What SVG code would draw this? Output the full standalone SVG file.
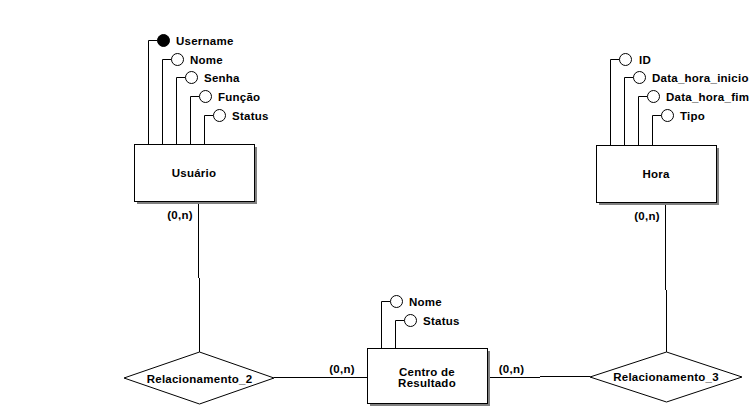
<svg xmlns="http://www.w3.org/2000/svg" width="755" height="410" viewBox="0 0 755 410">
  <style>
    text { font-family: "Liberation Sans", Arial, sans-serif; font-weight: bold; font-size: 11.5px; letter-spacing: 0.25px; fill: #000; }
    .mid { text-anchor: middle; }
    .box { fill: #fff; stroke: #000; stroke-width: 1; }
    .shadow { fill: #808080; }
    .rel { fill: #fff; stroke: #000; stroke-width: 1; }
    .line { fill: none; stroke: #000; stroke-width: 1; }
    .attr { fill: #fff; stroke: #000; stroke-width: 1; }
    .key { fill: #000; stroke: #000; stroke-width: 1; }
  </style>

  <!-- connectors between entities and relationships -->
  <g id="connectors">
    <path class="line" d="M198.5 202 V278 M199.5 278 V352"/>
    <path class="line" d="M665.5 203 V290 M666.5 290 V352"/>
    <path class="line" d="M274 377.5 H367"/>
    <path class="line" d="M487 377.5 H540 M540 376.5 H590"/>
  </g>

  <!-- cardinalities -->
  <g id="cardinalities">
    <text class="mid" x="180" y="219">(0,n)</text>
    <text class="mid" x="647" y="220">(0,n)</text>
    <text class="mid" x="342" y="373">(0,n)</text>
    <text class="mid" x="511.5" y="373">(0,n)</text>
  </g>

  <!-- entity: Usuário -->
  <g id="usuario">
    <path class="line" d="M148.5 144 V40.5 H157.5 M162.5 144 V59.5 H171.5 M176.5 144 V77.5 H185.5 M190.5 144 V96.5 H199.5 M204.5 144 V115.5 H213.5"/>
    <circle class="key" cx="163.5" cy="40.5" r="6"/>
    <circle class="attr" cx="177.5" cy="59.5" r="6"/>
    <circle class="attr" cx="191.5" cy="77.5" r="6"/>
    <circle class="attr" cx="205.5" cy="96.5" r="6"/>
    <circle class="attr" cx="219.5" cy="115.5" r="6"/>
    <text x="176" y="44.5">Username</text>
    <text x="190" y="63.5">Nome</text>
    <text x="204" y="81.5">Senha</text>
    <text x="218" y="100.5">Função</text>
    <text x="232" y="119.5">Status</text>
    <rect class="shadow" x="137" y="147" width="120" height="57"/>
    <rect class="box" x="134.5" y="144.5" width="120" height="57"/>
    <text class="mid" x="194" y="177">Usuário</text>
  </g>

  <!-- entity: Hora -->
  <g id="hora">
    <path class="line" d="M610.5 145 V59.5 H619.5 M624.5 145 V77.5 H633.5 M638.5 145 V96.5 H647.5 M652.5 145 V115.5 H661.5"/>
    <circle class="attr" cx="625.5" cy="59.5" r="6"/>
    <circle class="attr" cx="639.5" cy="77.5" r="6"/>
    <circle class="attr" cx="653.5" cy="96.5" r="6"/>
    <circle class="attr" cx="667.5" cy="115.5" r="6"/>
    <text x="639" y="63.5">ID</text>
    <text x="652" y="81.5">Data_hora_inicio</text>
    <text x="666" y="100.5">Data_hora_fim</text>
    <text x="680" y="119.5">Tipo</text>
    <rect class="shadow" x="599" y="148" width="120" height="57"/>
    <rect class="box" x="596.5" y="145.5" width="120" height="57"/>
    <text class="mid" x="656" y="178">Hora</text>
  </g>

  <!-- entity: Centro de Resultado -->
  <g id="centro-de-resultado">
    <path class="line" d="M381.5 348 V301.5 H390.5 M395.5 348 V320.5 H404.5"/>
    <circle class="attr" cx="396.5" cy="301.5" r="6"/>
    <circle class="attr" cx="410.5" cy="320.5" r="6"/>
    <text x="409" y="305.5">Nome</text>
    <text x="423" y="324.5">Status</text>
    <rect class="shadow" x="370" y="351" width="120" height="55"/>
    <rect class="box" x="367.5" y="348.5" width="120" height="55"/>
    <text class="mid" x="427" y="375.5">Centro de</text>
    <text class="mid" x="427" y="386.5">Resultado</text>
  </g>

  <!-- relationship: Relacionamento_2 -->
  <g id="relacionamento-2">
    <polygon class="rel" points="124,378 199.5,352 274,378 199.5,404"/>
    <text class="mid" x="199.5" y="383">Relacionamento_2</text>
  </g>

  <!-- relationship: Relacionamento_3 -->
  <g id="relacionamento-3">
    <polygon class="rel" points="590,377 666.5,352 742,377 666.5,402"/>
    <text class="mid" x="666" y="381">Relacionamento_3</text>
  </g>
</svg>
